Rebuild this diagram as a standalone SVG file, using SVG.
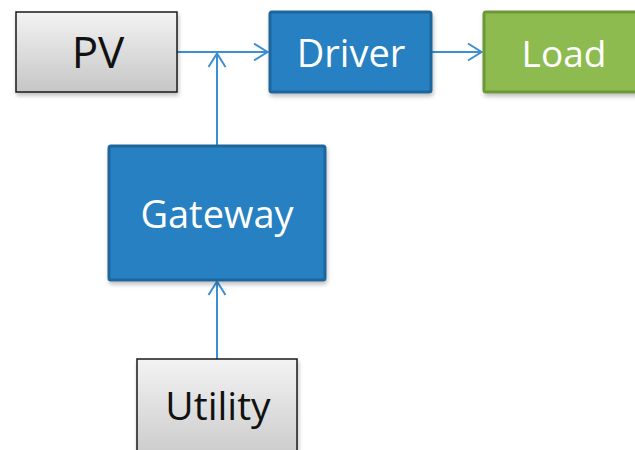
<svg xmlns="http://www.w3.org/2000/svg" width="635" height="450" viewBox="0 0 635 450">
  <defs>
    <linearGradient id="gray" x1="0" y1="0" x2="0" y2="1">
      <stop offset="0" stop-color="#f3f3f3"/>
      <stop offset="1" stop-color="#c6c6c6"/>
    </linearGradient>
    <filter id="sh" x="-10%" y="-10%" width="130%" height="140%">
      <feGaussianBlur in="SourceAlpha" stdDeviation="2"/>
      <feOffset dx="1" dy="3" result="b"/>
      <feComponentTransfer><feFuncA type="linear" slope="0.25"/></feComponentTransfer>
      <feMerge><feMergeNode/><feMergeNode in="SourceGraphic"/></feMerge>
    </filter>
    <marker id="arr" viewBox="0 0 16 20" refX="15" refY="10" markerWidth="16" markerHeight="20" markerUnits="userSpaceOnUse" orient="auto">
      <path d="M1,1.5 L14.5,10 L1,18.5" fill="none" stroke="#3b8fd2" stroke-width="2"/>
    </marker>
  </defs>
  <style>
    .gray{fill:url(#gray);stroke:#1a1a1a;stroke-width:1.5}
    .blue{fill:#2680c2;stroke:#1e669c;stroke-width:3}
    .green{fill:#8dbb4f;stroke:#6d9737;stroke-width:3}
    .tb{font-family:"Open Sans","Noto Sans",sans-serif;fill:#111;text-anchor:middle}
    .tw{font-family:"Open Sans","Noto Sans",sans-serif;fill:#fff;text-anchor:middle}
    .c{fill:none;stroke:#3b8fd2;stroke-width:2}
  </style>
  <rect width="635" height="450" fill="#fff"/>
  <g id="connectors">
    <line class="c" x1="177" y1="52" x2="268" y2="52" marker-end="url(#arr)"/>
    <line class="c" x1="217" y1="145" x2="217" y2="53" marker-end="url(#arr)"/>
    <line class="c" x1="431" y1="52" x2="482" y2="52" marker-end="url(#arr)"/>
    <line class="c" x1="217" y1="359" x2="217" y2="281" marker-end="url(#arr)"/>
  </g>
  <g id="pv">
    <rect class="gray" x="16" y="12" width="161" height="80" filter="url(#sh)"/>
    <text class="tb" x="98" y="68" font-size="44">PV</text>
  </g>
  <g id="driver">
    <rect class="blue" x="270" y="12" width="161" height="80" rx="2" filter="url(#sh)"/>
    <text class="tw" x="351" y="67" font-size="38">Driver</text>
  </g>
  <g id="load">
    <rect class="green" x="484" y="12" width="170" height="80" rx="2" filter="url(#sh)"/>
    <text class="tw" x="564" y="67" font-size="37">Load</text>
  </g>
  <g id="gateway">
    <rect class="blue" x="109" y="146" width="216" height="134" rx="2" filter="url(#sh)"/>
    <text class="tw" x="217" y="228" font-size="38">Gateway</text>
  </g>
  <g id="utility">
    <rect class="gray" x="137" y="359" width="160" height="110" filter="url(#sh)"/>
    <text class="tb" x="218" y="420" font-size="39">Utility</text>
  </g>
</svg>
